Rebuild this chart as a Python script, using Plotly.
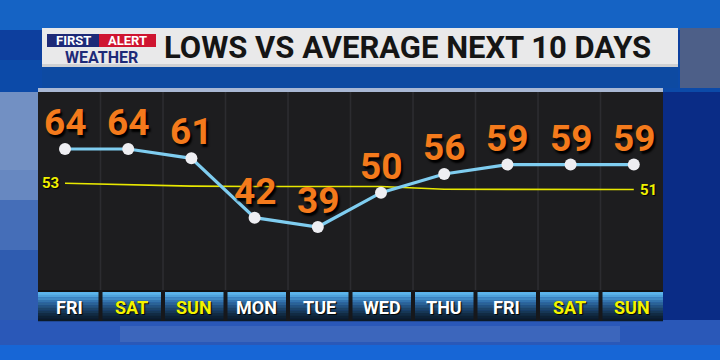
import plotly.graph_objects as go

days = ["FRI", "SAT", "SUN", "MON", "TUE", "WED", "THU", "FRI", "SAT", "SUN"]
day_colors = ["#ffffff", "#f4f400", "#f4f400", "#ffffff", "#ffffff", "#ffffff", "#ffffff", "#ffffff", "#f4f400", "#f4f400"]
lows = [64, 64, 61, 42, 39, 50, 56, 59, 59, 59]
average = [53, 52.6, 52.1, 52.0, 52.0, 52.0, 51.1, 51.0, 51.0, 51.0]
title = "LOWS VS AVERAGE NEXT 10 DAYS"

W, H = 720, 360
L, R, T, B = 38, 663, 92, 290  # plot area in px


def px(x):
    return (x - L) / (R - L)


def py(y):
    return (B - y) / (B - T)


idx = list(range(len(days)))
fig = go.Figure()

fig.add_trace(go.Scatter(
    x=idx, y=average, mode="lines",
    line=dict(color="#e8e800", width=1.6), hoverinfo="skip", showlegend=False))

fig.add_trace(go.Scatter(
    x=idx, y=lows, mode="lines+markers",
    line=dict(color="#7fcdf0", width=3.2),
    marker=dict(color="#eeeef2", size=12, line=dict(width=0)),
    hoverinfo="skip", showlegend=False))

shapes = []


def rect(x0, y0, x1, y1, color, layer="below", opacity=1.0):
    shapes.append(dict(type="rect", xref="paper", yref="paper",
                       x0=px(x0), x1=px(x1), y0=py(y0), y1=py(y1),
                       fillcolor=color, line=dict(width=0), layer=layer, opacity=opacity))


# background
rect(0, 0, W, H, "#0d3f9e")
rect(0, 0, W, 30, "#1563c4")
rect(0, 60, W, 92, "#0c4aa8")
rect(0, 92, 38, 330, "#2f5cb0")
rect(0, 92, 38, 200, "#8ea6cc", opacity=0.7)
rect(0, 170, 38, 250, "#5b7fc0", opacity=0.5)
rect(663, 92, W, 330, "#0a2c86")
rect(0, 320, W, 345, "#2a58b8")
rect(120, 326, 620, 342, "#5e80c4", opacity=0.35)
rect(0, 345, W, H, "#1766d6")
rect(680, 28, W, 88, "#4d5f88")
# title bar
rect(42, 28, 678, 67, "#e9e9ea")
rect(42, 64, 678, 67, "#cfd0d2")
rect(42, 67, 678, 88, "#0d4aa2")
rect(38, 88, 663, 92, "#a9b8d4")
# panel
rect(L, T, R, B, "#1d1d1f")
for k in range(1, 10):
    xb = L + k * (R - L) / 10
    rect(xb - 0.8, T, xb + 0.8, B, "#2c2c30")
# day label bar (vertical gradient)
grad = ["#5cb4ec", "#4ea2dc", "#3f8ac6", "#3475ae", "#2b6396", "#235380", "#1c446a", "#163756", "#112b44", "#0d2134", "#0b1a28"]
y0, y1 = 292, 321
n = len(grad)
for i, c in enumerate(grad):
    rect(L, y0 + i * (y1 - y0) / n, R, y0 + (i + 1) * (y1 - y0) / n + 0.3, c)
rect(L, 290, R, 292, "#121214")
for k in range(1, 10):
    xb = L + k * (R - L) / 10
    rect(xb - 2, 290, xb + 2, y1, "#16181c")
# logo
rect(47, 34, 99, 47, "#1e2a78")
rect(99, 34, 156, 47, "#cf1530")

annotations = []
for i, v in zip(idx, lows):
    annotations.append(dict(
        xref="x", yref="y", x=i, y=v, yshift=3, text=str(v), showarrow=False,
        xanchor="center", yanchor="bottom",
        font=dict(family="Roboto", size=37, color="#f47a1c", weight="bold",
                  shadow="2px 3px 2px #000000")))

for k, (d, c) in enumerate(zip(days, day_colors)):
    annotations.append(dict(
        xref="paper", yref="paper", x=px(L + (k + 0.5) * (R - L) / 10), y=py(307),
        text=d, showarrow=False, xanchor="center", yanchor="middle",
        font=dict(family="Roboto", size=18,
                  color=c, weight="bold", shadow="1px 1px 1px #000000")))

annotations.append(dict(xref="x", yref="y", x=idx[0], y=average[0], xshift=-4,
                        text=str(round(average[0])), showarrow=False, xanchor="right", yanchor="middle",
                        font=dict(family="Roboto", size=15, color="#f0f000", weight="bold",
                                  shadow="1px 1px 1px #000000")))
annotations.append(dict(xref="x", yref="y", x=idx[-1], y=average[-1], xshift=4,
                        text=str(round(average[-1])), showarrow=False, xanchor="left", yanchor="middle",
                        font=dict(family="Roboto", size=15, color="#f0f000", weight="bold",
                                  shadow="1px 1px 1px #000000")))

annotations.append(dict(xref="paper", yref="paper", x=px(407), y=py(48),
                        text=title, showarrow=False, xanchor="center", yanchor="middle",
                        font=dict(family="Roboto", size=31,
                                  color="#151515", weight="bold")))
annotations.append(dict(xref="paper", yref="paper", x=px(73), y=py(40.5),
                        text="FIRST", showarrow=False, xanchor="center", yanchor="middle",
                        font=dict(family="Roboto", size=13, color="#ffffff", weight="bold")))
annotations.append(dict(xref="paper", yref="paper", x=px(127.5), y=py(40.5),
                        text="ALERT", showarrow=False, xanchor="center", yanchor="middle",
                        font=dict(family="Roboto", size=13, color="#ffffff", weight="bold")))
annotations.append(dict(xref="paper", yref="paper", x=px(101), y=py(57.5),
                        text="WEATHER", showarrow=False, xanchor="center", yanchor="middle",
                        font=dict(family="Roboto", size=16, color="#1e2a78", weight="bold")))

ppu_x = 63.2
ppu_y = 3.12
x0_px, y64_px = 65, 149
xr = [-(x0_px - L) / ppu_x, 9 + (R - (x0_px + 9 * ppu_x)) / ppu_x]
yr = [64 - (B - y64_px) / ppu_y, 64 + (y64_px - T) / ppu_y]

fig.update_layout(
    width=W, height=H,
    margin=dict(l=L, r=W - R, t=T, b=H - B, pad=0),
    paper_bgcolor="#0d3f9e", plot_bgcolor="rgba(0,0,0,0)",
    xaxis=dict(range=xr, visible=False, fixedrange=True),
    yaxis=dict(range=yr, visible=False, fixedrange=True),
    shapes=shapes, annotations=annotations, showlegend=False)

fig.write_html("out.html")
